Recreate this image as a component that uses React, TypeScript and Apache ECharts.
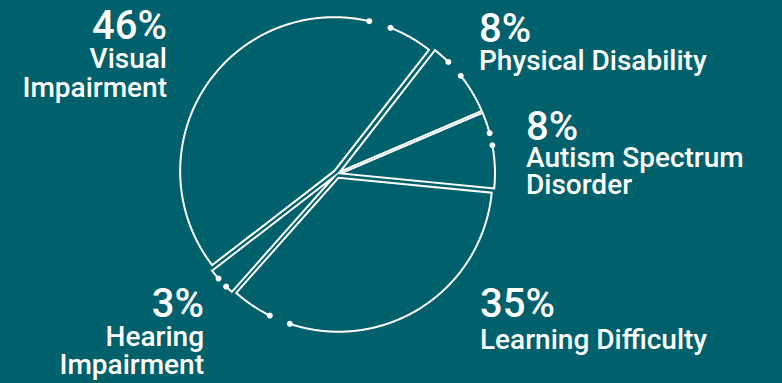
import React, { useEffect, useRef } from "react";
import * as echarts from "echarts";

// ---- data ----
const categories = ["Physical Disability", "Autism Spectrum Disorder", "Learning Difficulty", "Hearing Impairment", "Visual Impairment"];
const values = [8, 8, 35, 3, 46];
const labelNameLines = [["Physical Disability"], ["Autism Spectrum", "Disorder"], ["Learning Difficulty"], ["Hearing", "Impairment"], ["Visual", "Impairment"]];

// ---- style: where each slice's outline is broken (fraction along its arc) ----
const gapFrom = [0.23, 0.28, 0.816, 0.27, 0.85];
const gapTo = [0.47, 0.44, 0.88, 0.65, 0.9];

// label layout (style): block top-left/right, line heights of percent & name rows
const labelAnchors = [
  { x: 479, top: 10, align: "left", pLH: 36, nLH: 28 },
  { x: 526, top: 108, align: "left", pLH: 36, nLH: 27 },
  { x: 480, top: 281.5, align: "left", pLH: 44, nLH: 28 },
  { x: 204, top: 285, align: "right", pLH: 37, nLH: 28 },
  { x: 167, top: 5.75, align: "right", pLH: 38.5, nLH: 28.5 },
];

const BG = "#00606B";
const FONT = "Roboto, 'Open Sans', sans-serif";
const OFFSET = 4;

export default function App() {
  const ref = useRef<HTMLDivElement>(null);
  useEffect(() => {
    if (!ref.current) return;
    const chart = echarts.init(ref.current, undefined, { renderer: "svg" });
    const total = values.reduce((a, b) => a + b, 0);
    const cum: number[] = [];
    let acc = 0;
    values.forEach((v) => { cum.push(acc); acc += v; });
    const data = values.map((v, i) => [cum[i], cum[i] + v, v]);

    const texts: any[] = values.map((v, i) => {
      const a = labelAnchors[i];
      const txt = [`{p|${v}%}`, ...labelNameLines[i].map((ln) => `{n|${ln}}`)].join("\n");
      return {
        type: "text",
        x: a.x,
        y: a.top,
        style: {
          text: txt,
          align: a.align,
          verticalAlign: "top",
          fill: "#fff",
          rich: {
            p: { fontFamily: FONT, fontWeight: 500, fontSize: 40, lineHeight: a.pLH, fill: "#fff", align: a.align },
            n: { fontFamily: FONT, fontWeight: 500, fontSize: 28, lineHeight: a.nLH, fill: "#fff", align: a.align },
          },
        },
      };
    });

    chart.setOption({
      animation: false,
      backgroundColor: BG,
      polar: { center: [337, 174], radius: 154 },
      angleAxis: { type: "value", min: 0, max: total, startAngle: 52, clockwise: true, show: false },
      radiusAxis: { type: "value", min: 0, max: 1, show: false },
      series: [
        {
          type: "custom",
          name: "Disability",
          coordinateSystem: "polar",
          data: data.map((d, i) => ({ name: categories[i], value: d })),
          renderItem: (params: any, api: any) => {
            const i = params.dataIndex;
            const a0 = api.value(0) as number;
            const a1 = api.value(1) as number;
            const span = a1 - a0;
            const mid = (a0 + a1) / 2;
            const c = api.coord([0, mid]);
            const m = api.coord([1, mid]);
            const len = Math.hypot(m[0] - c[0], m[1] - c[1]) || 1;
            const ox = ((m[0] - c[0]) / len) * OFFSET;
            const oy = ((m[1] - c[1]) / len) * OFFSET;
            const pt = (r: number, a: number) => {
              const p = api.coord([r, a]);
              return [p[0] + ox, p[1] + oy];
            };
            const g0 = a0 + span * gapFrom[i];
            const g1 = a0 + span * gapTo[i];
            const pts: number[][] = [];
            const step = 0.1;
            for (let a = g1; a < a1; a += step) pts.push(pt(1, a));
            pts.push(pt(1, a1));
            pts.push(pt(0, mid));
            for (let a = a0; a < g0; a += step) pts.push(pt(1, a));
            pts.push(pt(1, g0));
            const first = pts[0];
            const last = pts[pts.length - 1];
            return {
              type: "group",
              children: [
                {
                  type: "polyline",
                  shape: { points: pts },
                  style: { stroke: "#fff", lineWidth: 2, fill: "none", lineJoin: "miter", miterLimit: 20 },
                },
                { type: "circle", shape: { cx: first[0], cy: first[1], r: 3 }, style: { fill: "#fff" } },
                { type: "circle", shape: { cx: last[0], cy: last[1], r: 3 }, style: { fill: "#fff" } },
              ],
            };
          },
        },
      ],
      graphic: texts,
    });
    return () => chart.dispose();
  }, []);
  return <div ref={ref} style={{ position: "fixed", left: 0, top: 0, width: 782, height: 383 }} />;
}
